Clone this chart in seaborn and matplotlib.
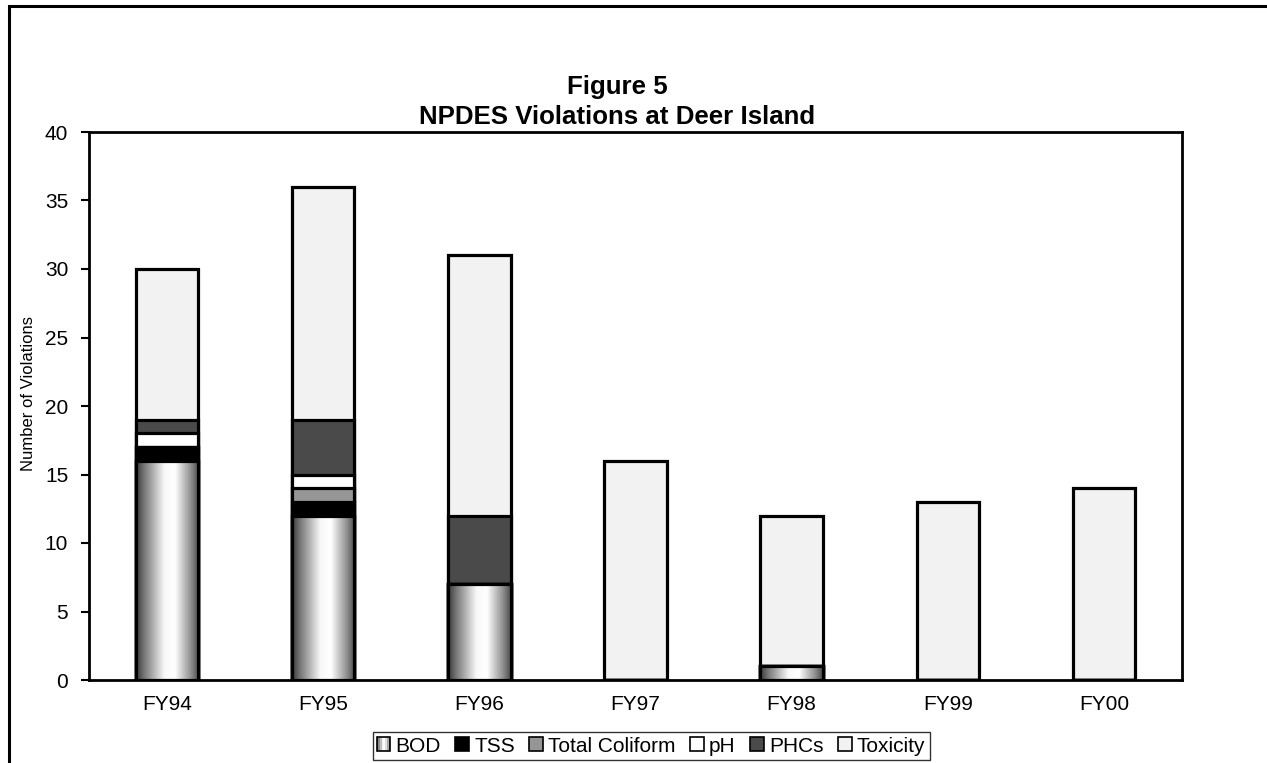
import numpy as np
import pandas as pd
import matplotlib
matplotlib.use("Agg")
import matplotlib.pyplot as plt
from matplotlib.patches import Rectangle
from matplotlib.legend_handler import HandlerBase
import seaborn as sns

# Fiscal years and violation counts by parameter
years = ["FY94", "FY95", "FY96", "FY97", "FY98", "FY99", "FY00"]
bod = [16, 12, 7, 0, 1, 0, 0]
tss = [1, 1, 0, 0, 0, 0, 0]
total_coliform = [0, 1, 0, 0, 0, 0, 0]
ph = [1, 1, 0, 0, 0, 0, 0]
phcs = [1, 4, 5, 0, 0, 0, 0]
toxicity = [11, 17, 19, 16, 11, 13, 14]

series_names = ["BOD", "TSS", "Total Coliform", "pH", "PHCs", "Toxicity"]
series_values = [bod, tss, total_coliform, ph, phcs, toxicity]
series_colors = ["#bdbdbd", "#000000", "#969696", "#ffffff", "#4a4a4a", "#f2f2f2"]

sns.set_theme(style="white")
plt.rcParams["font.family"] = ["Liberation Sans", "DejaVu Sans"]
plt.rcParams.update({"text.color": "black", "axes.labelcolor": "black",
                     "xtick.color": "black", "ytick.color": "black"})

fig = plt.figure(figsize=(12.67, 7.63), dpi=100)
ax = fig.add_axes([89 / 1267, 1 - 680 / 763, (1182 - 89) / 1267, (680 - 132) / 763])

# Long-form table with running totals for stacking
rows = []
for name, vals in zip(series_names, series_values):
    for yr, v in zip(years, vals):
        rows.append({"year": yr, "series": name, "count": v})
df = pd.DataFrame(rows)
df["series"] = pd.Categorical(df["series"], series_names, ordered=True)
df = df.sort_values(["year", "series"])
df["top"] = df.groupby("year")["count"].cumsum()

# Draw from the top layer down so each lower segment sits over the taller ones
bod_containers = None
for name, color in reversed(list(zip(series_names, series_colors))):
    sub = df[df["series"] == name]
    sns.barplot(data=sub, x="year", y="top", order=years, color=color,
                width=0.4, edgecolor="black", linewidth=2.3, saturation=1,
                ax=ax, errorbar=None)
    if name == "BOD":
        bod_containers = ax.containers[-1]

# Horizontal dark-light-dark shading for the BOD segments
t = np.linspace(0, 1, 256)
profile = np.interp(t, [0, 0.12, 0.45, 0.62, 0.88, 1.0],
                    [0.22, 0.45, 0.97, 1.0, 0.55, 0.3])
grad = np.tile(profile, (2, 1))
for bar in bod_containers:
    h = bar.get_height()
    if h <= 0:
        continue
    x0 = bar.get_x()
    w = bar.get_width()
    im = ax.imshow(grad, cmap="gray", vmin=0, vmax=1, aspect="auto",
                   extent=[x0, x0 + w, 0, h], zorder=bar.get_zorder() + 0.1,
                   interpolation="bilinear")
    im.set_clip_path(bar)
    edge = Rectangle((x0, 0), w, h, fill=False, edgecolor="black",
                     linewidth=2.3, zorder=bar.get_zorder() + 0.2)
    ax.add_patch(edge)

ax.set_xlim(-0.5, len(years) - 0.5)
ax.set_ylim(0, 40)
ax.set_yticks(range(0, 41, 5))
ax.set_xlabel("")
ax.set_ylabel("")
fig.text(29 / 1267, 1 - 393 / 763, "Number of Violations", rotation=90,
         ha="center", va="center", fontsize=12)
ax.set_xticks(range(len(years)))
ax.set_xticks(np.arange(-0.5, len(years) - 0.4, 1), minor=True)
ax.tick_params(axis="x", which="both", direction="in", length=5, width=1.5,
               color="black", pad=11, labelsize=15)
ax.tick_params(axis="y", direction="out", length=6, width=1.5, color="black",
               pad=9, labelsize=15, left=True)
for side in ax.spines.values():
    side.set_color("black")
    side.set_linewidth(2.0)
    side.set_visible(True)
ax.grid(False)

fig.text(617 / 1267, 1 - 87 / 763, "Figure 5", ha="center", va="center",
         fontsize=18.6, fontweight="bold")
fig.text(617 / 1267, 1 - 117 / 763, "NPDES Violations at Deer Island",
         ha="center", va="center", fontsize=18.6, fontweight="bold")


class GradientHandler(HandlerBase):
    def create_artists(self, legend, orig_handle, xdescent, ydescent, width,
                       height, fontsize, trans):
        side = min(width, height)
        x0 = -xdescent + (width - side) / 2
        y0 = -ydescent + (height - side) / 2
        arts = []
        n = 8
        for i in range(n):
            v = np.interp((i + 0.5) / n, t, profile)
            arts.append(Rectangle((x0 + side * i / n, y0), side / n, side,
                                  facecolor=(v, v, v), edgecolor="none",
                                  transform=trans))
        arts.append(Rectangle((x0, y0), side, side, fill=False,
                              edgecolor="black", linewidth=1.2,
                              transform=trans))
        return arts


class SquareHandler(HandlerBase):
    def create_artists(self, legend, orig_handle, xdescent, ydescent, width,
                       height, fontsize, trans):
        side = min(width, height)
        x0 = -xdescent + (width - side) / 2
        y0 = -ydescent + (height - side) / 2
        return [Rectangle((x0, y0), side, side,
                          facecolor=orig_handle.get_facecolor(),
                          edgecolor="black", linewidth=1.2, transform=trans)]


handles = [Rectangle((0, 0), 1, 1, facecolor=c) for c in series_colors]
handler_map = {handles[0]: GradientHandler()}
for hnd in handles[1:]:
    handler_map[hnd] = SquareHandler()
leg = fig.legend(handles, series_names, loc="center",
                 bbox_to_anchor=(651 / 1267, 1 - 746 / 763), ncol=6,
                 fontsize=15, frameon=True, fancybox=False,
                 handlelength=0.65, handleheight=0.65, handletextpad=0.25,
                 columnspacing=0.7, borderpad=0.2, borderaxespad=0,
                 handler_map=handler_map)
leg.get_frame().set_edgecolor("black")
leg.get_frame().set_linewidth(1.0)

# Chart area border, running off the right and bottom edges
fig.add_artist(Rectangle((9 / 1267, -0.05), 1.2, 1 - 6 / 763 + 0.05,
                         transform=fig.transFigure, fill=False,
                         edgecolor="black", linewidth=2.2))

fig.savefig("out.png", dpi=100)
